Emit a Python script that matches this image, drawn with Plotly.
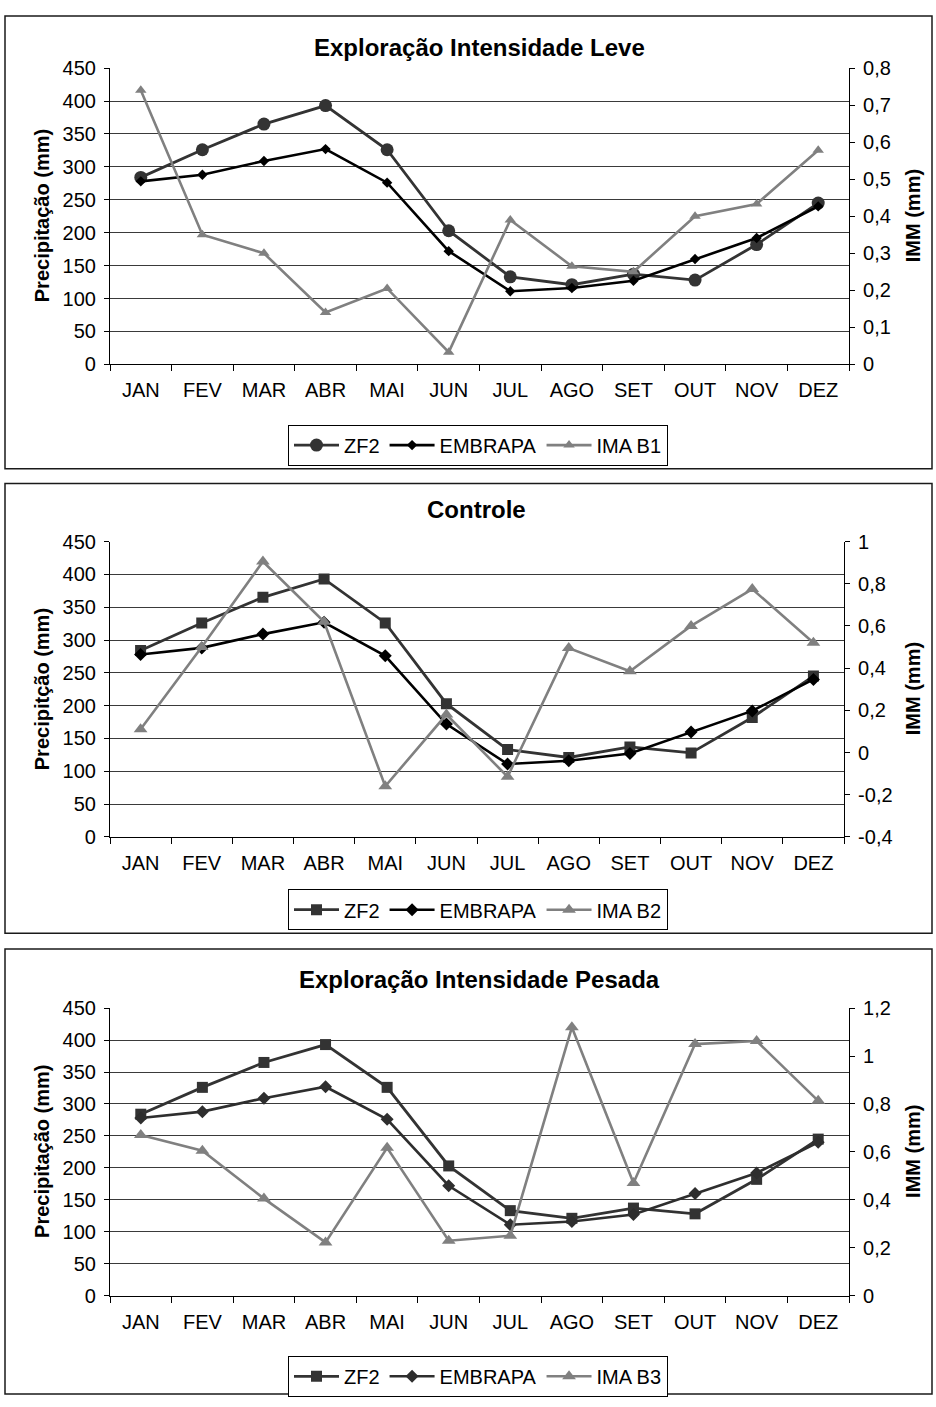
import plotly.graph_objects as go

# ---- data -------------------------------------------------------------
meses = ["JAN", "FEV", "MAR", "ABR", "MAI", "JUN", "JUL", "AGO", "SET", "OUT", "NOV", "DEZ"]

zf2 = [284, 326, 365, 393, 326, 203, 133, 121, 137, 128, 182, 245]
embrapa = [278, 288, 309, 327, 276, 172, 111, 116, 127, 160, 192, 240]

ima_b1 = [0.74, 0.35, 0.30, 0.14, 0.205, 0.033, 0.39, 0.265, 0.25, 0.40, 0.433, 0.578]
ima_b2 = [0.11, 0.50, 0.905, 0.62, -0.16, 0.18, -0.115, 0.495, 0.385, 0.60, 0.775, 0.52]
ima_b3 = [0.67, 0.605, 0.405, 0.222, 0.617, 0.229, 0.25, 1.12, 0.47, 1.05, 1.063, 0.813]

titulos = ["Exploração Intensidade Leve", "Controle", "Exploração Intensidade Pesada"]
titulos_y = ["Precipitação (mm)", "Precipitção (mm)", "Precipitação (mm)"]
nomes_ima = ["IMA B1", "IMA B2", "IMA B3"]

prec_ticks = [0, 50, 100, 150, 200, 250, 300, 350, 400, 450]
imm_ticks = [
    [0, 0.1, 0.2, 0.3, 0.4, 0.5, 0.6, 0.7, 0.8],
    [-0.4, -0.2, 0, 0.2, 0.4, 0.6, 0.8, 1],
    [0, 0.2, 0.4, 0.6, 0.8, 1, 1.2],
]

# ---- layout geometry (pixels) ----------------------------------------
W, H = 936, 1407
FONT = "Liberation Sans, Arial, sans-serif"


def fx(px):
    return px / W


def fy(py):
    return 1 - py / H


# per panel: plot left, right, top, bottom, title y, legend y, frame top, frame bottom
paineis = [
    dict(l=110, r=849, t=58, b=359, ty=37, ly=441, ft=5, fb=465),
    dict(l=110, r=844, t=539, b=839, ty=506, ly=913, ft=480, fb=937),
    dict(l=110, r=849, t=1013, b=1305, ty=984, ly=1387, ft=953, fb=1405),
]

estilos = [
    dict(zf2_sym="circle", zf2_size=13, emb_color="#000000", emb_size=8, ima_size=10),
    dict(zf2_sym="square", zf2_size=11, emb_color="#000000", emb_size=10, ima_size=12),
    dict(zf2_sym="square", zf2_size=11, emb_color="#2e2e2e", emb_size=10, ima_size=12),
]

ima_series = [ima_b1, ima_b2, ima_b3]


def fmt(v):
    return ("%g" % v).replace(".", ",")


fig = go.Figure()
layout = dict(
    width=W,
    height=H,
    margin=dict(l=0, r=0, t=0, b=0),
    paper_bgcolor="white",
    plot_bgcolor="white",
    font=dict(family=FONT, size=20, color="#000"),
    showlegend=True,
)
annotations = []
shapes = []

for i, p in enumerate(paineis):
    n = i + 1
    xa = "x" if n == 1 else f"x{n}"
    yl = f"y{2 * n - 1}" if n > 1 else "y"
    yr = f"y{2 * n}"
    leg = "legend" if n == 1 else f"legend{n}"
    est = estilos[i]

    fig.add_trace(go.Scatter(
        x=meses, y=zf2, name="ZF2", xaxis=xa, yaxis=yl, legend=leg,
        mode="lines+markers",
        line=dict(color="#333333", width=2.8),
        marker=dict(symbol=est["zf2_sym"], size=est["zf2_size"], color="#333333"),
    ))
    fig.add_trace(go.Scatter(
        x=meses, y=embrapa, name="EMBRAPA", xaxis=xa, yaxis=yl, legend=leg,
        mode="lines+markers",
        line=dict(color=est["emb_color"], width=2.6),
        marker=dict(symbol="diamond", size=est["emb_size"], color=est["emb_color"]),
    ))
    fig.add_trace(go.Scatter(
        x=meses, y=ima_series[i], name=nomes_ima[i], xaxis=xa, yaxis=yr, legend=leg,
        mode="lines+markers",
        line=dict(color="#808080", width=2.6),
        marker=dict(symbol="triangle-up", size=est["ima_size"], color="#808080"),
    ))

    dom_x = [fx(p["l"]), fx(p["r"])]
    dom_y = [fy(p["b"]), fy(p["t"])]
    xkey = "xaxis" if n == 1 else f"xaxis{n}"
    ylkey = "yaxis" if n == 1 else f"yaxis{2 * n - 1}"
    yrkey = f"yaxis{2 * n}"

    layout[xkey] = dict(
        domain=dom_x, anchor=yl, type="category", categoryorder="array",
        categoryarray=meses, range=[-0.5, 11.5],
        tickson="boundaries", ticks="outside", ticklen=6, tickcolor="#000",
        showline=True, linecolor="#000", linewidth=1.2, showgrid=False,
        tickfont=dict(size=20), ticklabelstandoff=8, fixedrange=True,
    )
    layout[ylkey] = dict(
        domain=dom_y, anchor=xa, range=[0, 450],
        tickvals=prec_ticks, ticktext=[fmt(v) for v in prec_ticks],
        ticks="outside", ticklen=5, tickcolor="#000",
        showline=True, linecolor="#000", linewidth=1.2,
        showgrid=True, gridcolor="#3a3a3a", gridwidth=1,
        zeroline=False, tickfont=dict(size=20), ticklabelstandoff=4, fixedrange=True,
    )
    tv = imm_ticks[i]
    layout[yrkey] = dict(
        overlaying=yl, side="right", anchor=xa,
        range=[tv[0], tv[-1]], tickvals=tv, ticktext=[fmt(v) for v in tv],
        ticks="outside", ticklen=5, tickcolor="#000",
        showline=True, linecolor="#000", linewidth=1.2,
        showgrid=False, zeroline=False, tickfont=dict(size=20),
        ticklabelstandoff=4, fixedrange=True,
    )
    layout[leg] = dict(
        orientation="h", x=fx(478), xanchor="center", y=fy(p["ly"]), yanchor="middle",
        bordercolor="#000", borderwidth=1, bgcolor="white",
        font=dict(size=20), itemwidth=45, tracegroupgap=0,
    )

    annotations.append(dict(
        text="<b>%s</b>" % titulos[i], x=fx((p["l"] + p["r"]) / 2), y=fy(p["ty"]),
        xref="paper", yref="paper", showarrow=False, xanchor="center", yanchor="middle",
        font=dict(size=24, color="#000"),
    ))
    annotations.append(dict(
        text="<b>%s</b>" % titulos_y[i], x=fx(42), y=fy((p["t"] + p["b"]) / 2),
        xref="paper", yref="paper", showarrow=False, textangle=-90,
        xanchor="center", yanchor="middle", font=dict(size=20, color="#000"),
    ))
    annotations.append(dict(
        text="<b>IMM (mm)</b>", x=fx(913), y=fy((p["t"] + p["b"]) / 2),
        xref="paper", yref="paper", showarrow=False, textangle=-90,
        xanchor="center", yanchor="middle", font=dict(size=20, color="#000"),
    ))
    shapes.append(dict(
        type="rect", xref="paper", yref="paper",
        x0=fx(5), x1=fx(932), y0=fy(p["fb"]), y1=fy(p["ft"]),
        line=dict(color="#1a1a1a", width=1.5), layer="below",
    ))

layout["annotations"] = annotations
layout["shapes"] = shapes
fig.update_layout(**layout)

fig.write_html("out.html")
